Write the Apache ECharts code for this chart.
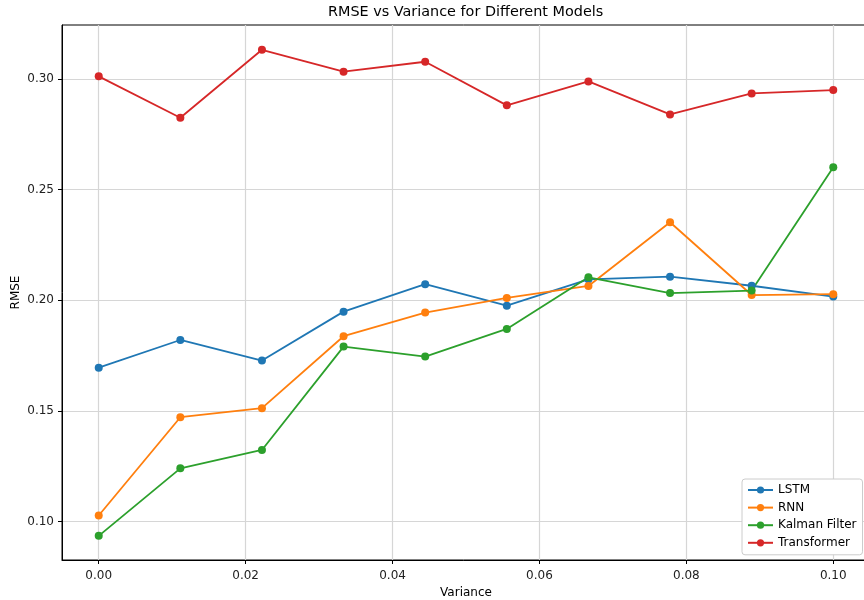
<!DOCTYPE html>
<html>
<head>
<meta charset="utf-8">
<script src="https://cdn.jsdelivr.net/npm/echarts@6/dist/echarts.min.js"></script>
<style>html,body{margin:0;padding:0;background:#fff}#c{width:864px;height:600px}</style>
</head>
<body>
<div id="c"></div>
<script>
const variance = [0.0, 0.011111, 0.022222, 0.033333, 0.044444, 0.055556, 0.066667, 0.077778, 0.088889, 0.1];
const lstm = [0.1696, 0.1821, 0.1728, 0.1949, 0.2073, 0.1976, 0.2095, 0.2107, 0.2066, 0.2017];
const rnn = [0.1028, 0.1472, 0.1513, 0.1838, 0.1945, 0.2011, 0.2065, 0.2353, 0.2024, 0.2028];
const kalman = [0.0936, 0.1241, 0.1324, 0.1791, 0.1746, 0.1871, 0.2104, 0.2033, 0.2044, 0.2601];
const transformer = [0.3012, 0.2825, 0.3132, 0.3033, 0.3078, 0.2881, 0.2989, 0.2840, 0.2935, 0.2950];
const xTicks = [0.0, 0.02, 0.04, 0.06, 0.08, 0.10];
const yTicks = [0.10, 0.15, 0.20, 0.25, 0.30];
const seriesNames = ['LSTM', 'RNN', 'Kalman Filter', 'Transformer'];
const seriesData = [lstm, rnn, kalman, transformer];
const colors = ['#1f77b4', '#ff7f0e', '#2ca02c', '#d62728'];

const font = 'DejaVu Sans';
const chart = echarts.init(document.getElementById('c'), null, {renderer: 'canvas'});
const pair = arr => arr.map((v, i) => [variance[i], v]);

chart.setOption({
  animation: false,
  backgroundColor: '#fff',
  textStyle: {fontFamily: font},
  title: {
    text: 'RMSE vs Variance for Different Models',
    left: 328, top: 5, padding: 0,
    textStyle: {fontFamily: font, fontSize: 14.4, fontWeight: 'normal', color: '#000'}
  },
  grid: {left: 62, top: 25, width: 808, height: 535, outerBoundsMode: 'none', containLabel: false,
         show: true, borderColor: '#000', borderWidth: 1, backgroundColor: 'transparent'},
  xAxis: {
    type: 'value', min: -0.005, max: 0.105, splitNumber: 5,
    name: 'Variance', nameLocation: 'middle', nameGap: 26,
    nameTextStyle: {fontFamily: font, fontSize: 12, color: '#000'},
    axisLine: {show: true, onZero: false, lineStyle: {color: '#000', width: 1}},
    axisTick: {show: true, inside: false, length: 4, lineStyle: {color: '#000'}, customValues: xTicks},
    axisLabel: {fontFamily: font, fontSize: 12, color: '#222', margin: 10, customValues: xTicks, formatter: v => v.toFixed(2)},
    splitLine: {show: true, lineStyle: {color: '#d6d6d6', width: 1.2}}
  },
  yAxis: {
    type: 'value', min: 0.0827, max: 0.3244, splitNumber: 5,
    name: 'RMSE', nameLocation: 'middle', nameGap: 40, nameMoveOverlap: false,
    nameTextStyle: {fontFamily: font, fontSize: 12, color: '#000'},
    axisLine: {show: true, onZero: false, lineStyle: {color: '#000', width: 1}},
    axisTick: {show: true, inside: false, length: 4, lineStyle: {color: '#000'}, customValues: yTicks},
    axisLabel: {fontFamily: font, fontSize: 12, color: '#222', margin: 8, customValues: yTicks, formatter: v => v.toFixed(2)},
    splitLine: {show: true, lineStyle: {color: '#d6d6d6', width: 1.2}}
  },
  legend: {
    orient: 'vertical', left: 742, top: 479,
    padding: [5, 6, 6, 5], itemGap: 5.6, itemWidth: 25, itemHeight: 9,
    backgroundColor: '#fff', borderColor: '#ccc', borderWidth: 1, borderRadius: 3,
    textStyle: {fontFamily: font, fontSize: 12, color: '#000'},
    data: seriesNames
  },
  series: seriesNames.map((n, i) => ({
    name: n, type: 'line', data: pair(seriesData[i]),
    symbol: 'circle', symbolSize: 8, showSymbol: true,
    lineStyle: {color: colors[i], width: 1.8},
    itemStyle: {color: colors[i]},
    emphasis: {disabled: true}
  })),
  color: colors
});
</script>
</body>
</html>
